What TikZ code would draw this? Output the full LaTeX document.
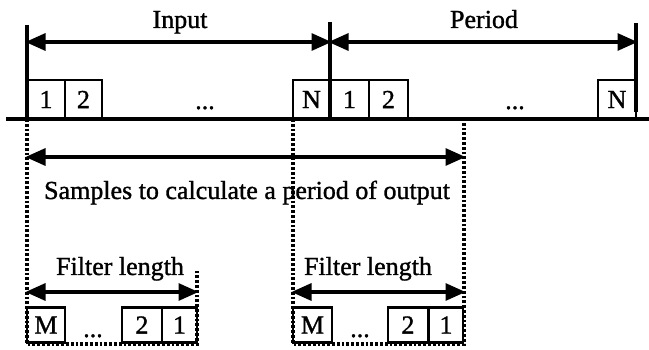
\documentclass[tikz,border=0pt]{standalone}
\usepackage{fontspec}
\setmainfont{Liberation Serif}[FakeBold=1.2]
\usetikzlibrary{arrows.meta}
\begin{document}
\begin{tikzpicture}[x=1pt,y=-1pt,
  txt/.style={font=\fontsize{26}{30}\selectfont, inner sep=0pt},
  lbl/.style={txt, anchor=base},
  cell/.style={txt, draw, line width=2.2pt, minimum height=39pt},
  fcell/.style={txt, draw, line width=2.2pt, minimum height=35pt},
  bar/.style={line width=3.2pt},
  span/.style={line width=3.2pt, {Triangle[length=20pt,width=17pt]}-{Triangle[length=20pt,width=17pt]}, shorten <=-1.5pt, shorten >=-1.5pt},
  guide/.style={line width=3.6pt, dash pattern=on 2.8pt off 2pt}]
\useasboundingbox (0,0) rectangle (649,350);

% time axis and period boundaries
\coordinate (axL) at (6,119);
\coordinate (axR) at (649,119);
\coordinate (t0top) at (27,25);  \coordinate (t0) at (27,119);
\coordinate (t1top) at (330,22); \coordinate (t1) at (330,119);
\coordinate (t2top) at (636,23); \coordinate (t2) at (636,112);
\draw[line width=3.8pt] (axL) -- (axR);
\draw[bar] (t0top) -- (t0);
\draw[bar] (t1top) -- (t1);
\draw[bar] (t2top) -- (t2);

% input / period spans
\coordinate (inL) at (27,42);  \coordinate (inR) at (330,42);
\coordinate (peL) at (330,42); \coordinate (peR) at (636,42);
\draw[span] (inL) -- (inR);
\draw[span] (peL) -- (peR);
\node[lbl] (inputlbl) at (180,28) {Input};
\node[lbl] (periodlbl) at (484,28) {Period};

% first period of samples
\node[cell, minimum width=38pt] (a1) at (46,99.5) {1};
\node[cell, minimum width=37pt] (a2) at (83.5,99.5) {2};
\node[lbl] (adots) at (205,109) {...};
\node[cell, minimum width=37pt] (aN) at (311.5,99.5) {N};
% second period of samples
\node[cell, minimum width=39pt] (b1) at (349.5,99.5) {1};
\node[cell, minimum width=39pt] (b2) at (388.5,99.5) {2};
\node[lbl] (bdots) at (515,109) {...};
\node[cell, minimum width=38pt] (bN) at (617,99.5) {N};

% dotted guides down from the axis
\coordinate (g0) at (27,344);
\coordinate (g1top) at (293,119); \coordinate (g1) at (293,344);
\coordinate (g2top) at (464,119); \coordinate (g2) at (464,344);
\coordinate (g3top) at (197,270); \coordinate (g3) at (197,344);
\draw[guide] (t0) -- (g0) -- (g3) -- (g3top);
\draw[guide] (g1top) -- (g1) -- (g2) -- (g2top);

% samples needed for one output period
\coordinate (smL) at (27,157); \coordinate (smR) at (464,157);
\draw[span] (smL) -- (smR);
\node[lbl] (smlbl) at (247,199) {Samples to calculate a period of output};

% filter windows
\coordinate (f1L) at (27,292);  \coordinate (f1R) at (197,292);
\coordinate (f2L) at (293,292); \coordinate (f2R) at (464,292);
\draw[span] (f1L) -- (f1R);
\draw[span] (f2L) -- (f2R);
\node[lbl] (f1lbl) at (120,275) {Filter length};
\node[lbl] (f2lbl) at (368,275) {Filter length};

\node[fcell, minimum width=38pt] (c1M) at (46,325) {M};
\node[lbl] (c1dots) at (93,337) {...};
\node[fcell, minimum width=40pt] (c12) at (142,325) {2};
\node[fcell, minimum width=35pt] (c11) at (179.5,325) {1};

\node[fcell, minimum width=39pt] (c2M) at (312.5,325) {M};
\node[lbl] (c2dots) at (360,337) {...};
\node[fcell, minimum width=40pt] (c22) at (408,325) {2};
\node[fcell, minimum width=34pt] (c21) at (446,325) {1};
\end{tikzpicture}
\end{document}
